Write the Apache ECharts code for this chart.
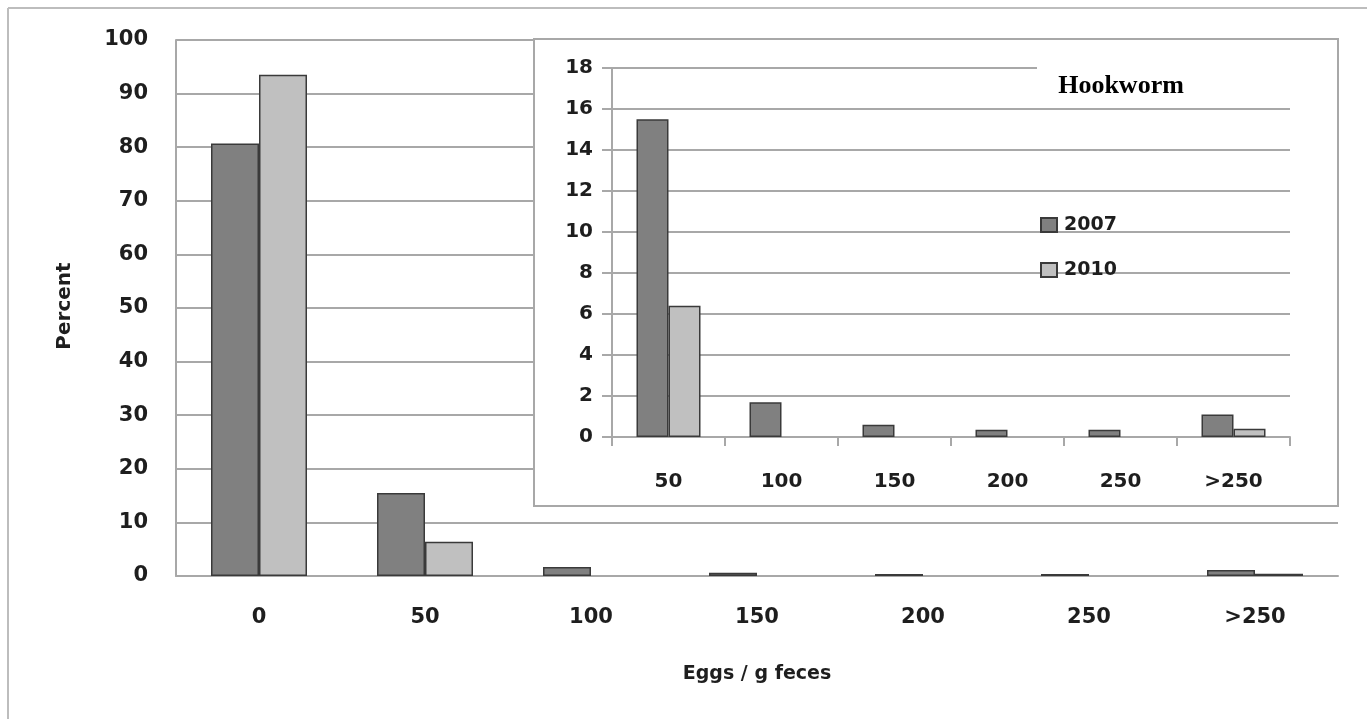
<!DOCTYPE html>
<html>
<head>
<meta charset="utf-8">
<script src="https://cdn.jsdelivr.net/npm/echarts@6/dist/echarts.min.js"></script>
<style>
html,body{margin:0;padding:0;background:#fff;}
#c{width:1367px;height:719px;}
</style>
</head>
<body>
<div id="c"></div>
<script>
// ---- data ----
const mainCategories = ['0', '50', '100', '150', '200', '250', '>250'];
const main2007 = [80.7, 15.5, 1.7, 0.6, 0.35, 0.35, 1.1];
const main2010 = [93.5, 6.4, 0, 0, 0, 0, 0.4];

const insetCategories = ['50', '100', '150', '200', '250', '>250'];
const inset2007 = [15.5, 1.7, 0.6, 0.35, 0.35, 1.1];
const inset2010 = [6.4, 0, 0, 0, 0, 0.4];

const seriesNames = ['2007', '2010'];
const titleText = 'Hookworm';
const xAxisTitle = 'Eggs / g feces';
const yAxisTitle = 'Percent';

// zero-height bars are not drawn (no outline line)
const noZero = arr => arr.map(v => (v === 0 ? null : v));

// ---- styles ----
const FONT = 'DejaVu Sans';
const TXT = '#1e1e1e';
const GRID = '#a8a8a8';
const C2007 = '#808080';
const C2010 = '#c0c0c0';
const EDGE = '#3a3a3a';

const chart = echarts.init(document.getElementById('c'), null, {renderer: 'canvas'});

const option = {
  backgroundColor: '#fff',
  animation: false,
  grid: [
    {left: 176, right: 29, top: 40, bottom: 143, containLabel: false},
    {left: 612, right: 77, top: 68, bottom: 282, containLabel: false}
  ],
  xAxis: [
    {
      gridIndex: 0, type: 'category', data: mainCategories,
      axisLine: {show: true, lineStyle: {color: GRID, width: 2}},
      axisTick: {show: false},
      axisLabel: {margin: 31, color: TXT, fontFamily: FONT, fontWeight: 'bold', fontSize: 21},
      splitLine: {show: false}
    },
    {
      gridIndex: 1, type: 'category', data: insetCategories, z: 10,
      axisLine: {show: true, lineStyle: {color: GRID, width: 2}},
      axisTick: {show: true, length: 9, lineStyle: {color: GRID, width: 2}},
      axisLabel: {margin: 35, color: TXT, fontFamily: FONT, fontWeight: 'bold', fontSize: 20},
      splitLine: {show: false}
    }
  ],
  yAxis: [
    {
      gridIndex: 0, type: 'value', min: 0, max: 100, interval: 10,
      axisLine: {show: true, lineStyle: {color: GRID, width: 2}},
      axisTick: {show: false},
      axisLabel: {margin: 28, color: TXT, fontFamily: FONT, fontWeight: 'bold', fontSize: 21},
      splitLine: {show: true, lineStyle: {color: GRID, width: 2}}
    },
    {
      gridIndex: 1, type: 'value', min: 0, max: 18, interval: 2, z: 10,
      axisLine: {show: true, lineStyle: {color: GRID, width: 2}},
      axisTick: {show: true, length: 10, lineStyle: {color: GRID, width: 2}},
      axisLabel: {margin: 19, color: TXT, fontFamily: FONT, fontWeight: 'bold', fontSize: 20},
      splitLine: {show: true, lineStyle: {color: GRID, width: 2}}
    }
  ],
  legend: {
    data: seriesNames,
    orient: 'vertical',
    left: 1035, top: 210,
    itemWidth: 16, itemHeight: 14,
    itemGap: 25,
    z: 20,
    icon: 'rect',
    textStyle: {color: TXT, fontFamily: FONT, fontWeight: 'bold', fontSize: 19, lineHeight: 20, padding: [0, 0, 0, 2]},
    selectedMode: false
  },
  graphic: [
    {type: 'line', z: 1, shape: {x1: 8, y1: 8, x2: 1367, y2: 8}, style: {stroke: '#bdbdbd', lineWidth: 2}},
    {type: 'line', z: 1, shape: {x1: 8, y1: 8, x2: 8, y2: 719}, style: {stroke: '#bdbdbd', lineWidth: 2}},
    {type: 'rect', z: 5, shape: {x: 534, y: 39, width: 804, height: 467}, style: {fill: '#fff', stroke: '#a8a8a8', lineWidth: 2}},
    {type: 'rect', z: 15, shape: {x: 1037, y: 58, width: 258, height: 44}, style: {fill: '#fff'}},
    {type: 'text', z: 16, x: 1121, y: 86, style: {text: titleText, font: 'bold 26px "Liberation Serif", "Times New Roman", serif', fill: '#000', align: 'center', verticalAlign: 'middle'}},
    {type: 'text', z: 16, x: 757, y: 674, style: {text: xAxisTitle, font: 'bold 19px "DejaVu Sans"', fill: TXT, align: 'center', verticalAlign: 'middle'}},
    {type: 'text', z: 16, x: 65, y: 306, rotation: Math.PI / 2, style: {text: yAxisTitle, font: 'bold 20px "DejaVu Sans"', fill: TXT, align: 'center', verticalAlign: 'middle'}}
  ],
  series: [
    {
      name: seriesNames[0], type: 'bar', xAxisIndex: 0, yAxisIndex: 0, data: noZero(main2007),
      barWidth: 48, barGap: '0%',
      itemStyle: {color: C2007, borderColor: EDGE, borderWidth: 1.5}
    },
    {
      name: seriesNames[1], type: 'bar', xAxisIndex: 0, yAxisIndex: 0, data: noZero(main2010),
      barWidth: 48, barGap: '0%',
      itemStyle: {color: C2010, borderColor: EDGE, borderWidth: 1.5}
    },
    {
      name: seriesNames[0], type: 'bar', xAxisIndex: 1, yAxisIndex: 1, data: noZero(inset2007), z: 12,
      barWidth: 32, barGap: '0%',
      itemStyle: {color: C2007, borderColor: EDGE, borderWidth: 1.5}
    },
    {
      name: seriesNames[1], type: 'bar', xAxisIndex: 1, yAxisIndex: 1, data: noZero(inset2010), z: 12,
      barWidth: 32, barGap: '0%',
      itemStyle: {color: C2010, borderColor: EDGE, borderWidth: 1.5}
    }
  ]
};
chart.setOption(option);
</script>
</body>
</html>
